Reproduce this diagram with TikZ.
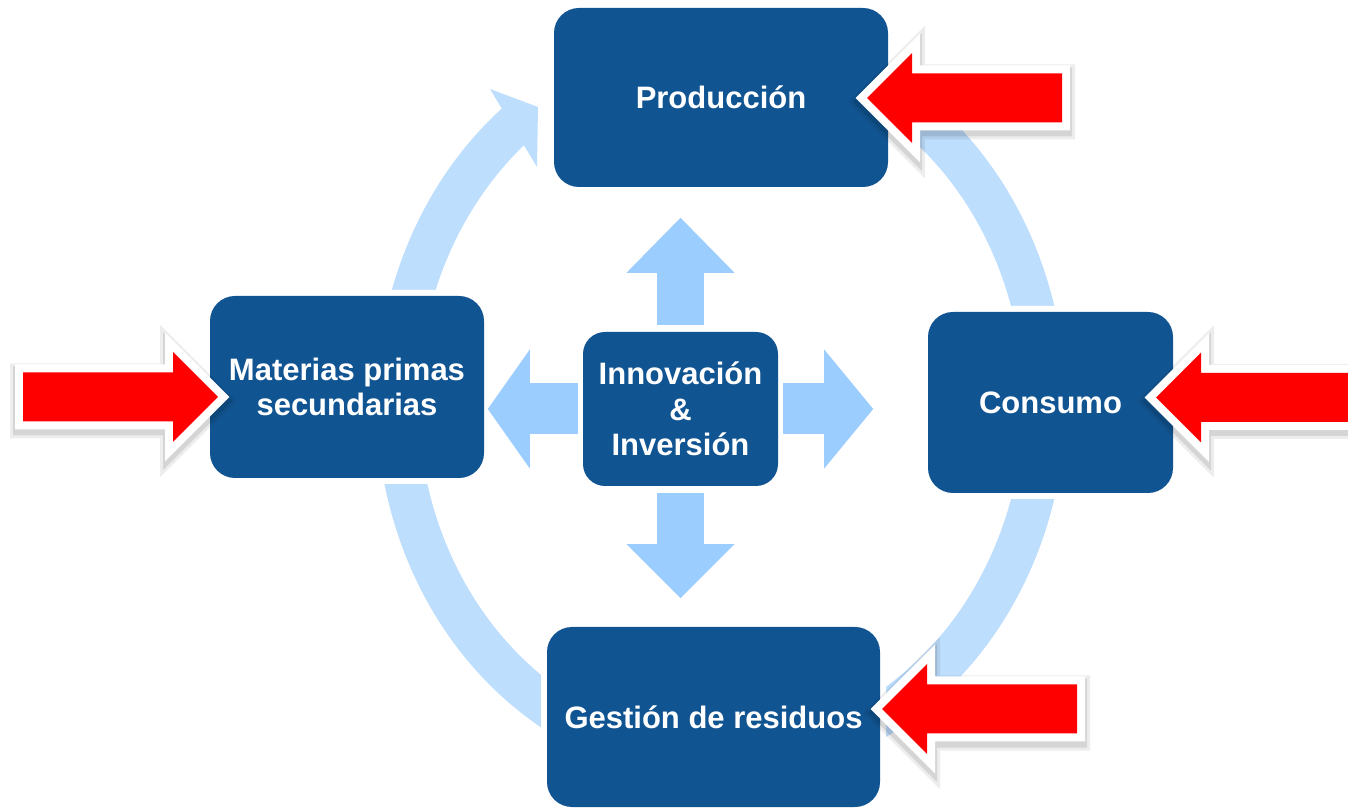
\documentclass[tikz,border=0pt]{standalone}
\usepackage{fontspec}
\setmainfont{Liberation Sans}
\usetikzlibrary{arrows.meta}
\definecolor{boxblue}{RGB}{17,84,146}
\definecolor{ringblue}{RGB}{190,222,254}
\definecolor{arrblue}{RGB}{155,205,255}
\definecolor{redfill}{RGB}{255,0,0}
\tikzset{
  pics/redarr/.style={code={
    \begin{scope}[shift={(0,-4)}]
      \filldraw[black, fill opacity=0.07, draw opacity=0.07, line width=26pt, line join=miter]
        (0,0) -- (45,45) -- (45,24.5) -- (#1,24.5) -- (#1,-24.5) -- (45,-24.5) -- (45,-45) -- cycle;
      \filldraw[black, fill opacity=0.10, draw opacity=0.10, line width=20pt, line join=miter]
        (0,0) -- (45,45) -- (45,24.5) -- (#1,24.5) -- (#1,-24.5) -- (45,-24.5) -- (45,-45) -- cycle;
    \end{scope}
    \filldraw[white, line width=16pt, line join=miter]
      (0,0) -- (45,45) -- (45,24.5) -- (#1,24.5) -- (#1,-24.5) -- (45,-24.5) -- (45,-45) -- cycle;
    \fill[redfill]
      (0,0) -- (45,45) -- (45,24.5) -- (#1,24.5) -- (#1,-24.5) -- (45,-24.5) -- (45,-45) -- cycle;
  }}
}
\begin{document}
\begin{tikzpicture}[x=1pt,y=1pt,
  box/.style={rounded corners=25pt, fill=boxblue, preaction={draw=white, line width=12pt},
    text=white, font=\fontsize{31}{35.5}\selectfont\bfseries, align=center, inner sep=0pt},
  ring/.style={draw=ringblue, line width=42pt},
  carrow/.style n args={3}{draw=arrblue, line width=#1,
    -{Triangle[width=#2, length=#3, line width=0pt]}}]
\useasboundingbox (0,0) rectangle (1348,808);

% ring
\draw[ring] (721,405.5) ++(180:323.5 and 360)
  arc[start angle=180, end angle=129, x radius=323.5, y radius=360];
\fill[ringblue] (490,719) -- (538,701) -- (537,641) -- cycle;
\draw[ring] (721,405.5) ++(112:323.5 and 360)
  arc[start angle=112, end angle=-180, x radius=323.5, y radius=360];

% boxes
\node[box, minimum width=334pt, minimum height=179pt] (prod) at (721,710.5) {Producción};
\node[box, minimum width=274pt, minimum height=182pt] (mat) at (347,421) {Materias primas\\secundarias};
\node[box, minimum width=195pt, minimum height=154pt, rounded corners=22pt] (innov) at (680.5,399) {Innovación\\\&\\Inversión};
\node[box, minimum width=245pt, minimum height=181pt] (cons) at (1050.5,405.5) {Consumo};
\node[box, minimum width=333pt, minimum height=180pt] (gest) at (713.5,91) {Gestión de residuos};

% centre arrows
\draw[carrow={47pt}{108pt}{55pt}] ([yshift=7pt]innov.north) -- ++(0,107);
\draw[carrow={47pt}{108pt}{54pt}] ([yshift=-7pt]innov.south) -- ++(0,-105);
\draw[carrow={51pt}{119pt}{42pt}] ([xshift=-5pt]innov.west) -- ++(-90,0);
\draw[carrow={51pt}{119pt}{49pt}] ([xshift=5pt]innov.east) -- ++(90,0);

% red arrows
\pic at (867,710) {redarr=195};
\pic at (1156,410.5) {redarr=200};
\pic at (882,99) {redarr=195};
\pic[xscale=-1] at (218,411) {redarr=195};
\end{tikzpicture}
\end{document}
